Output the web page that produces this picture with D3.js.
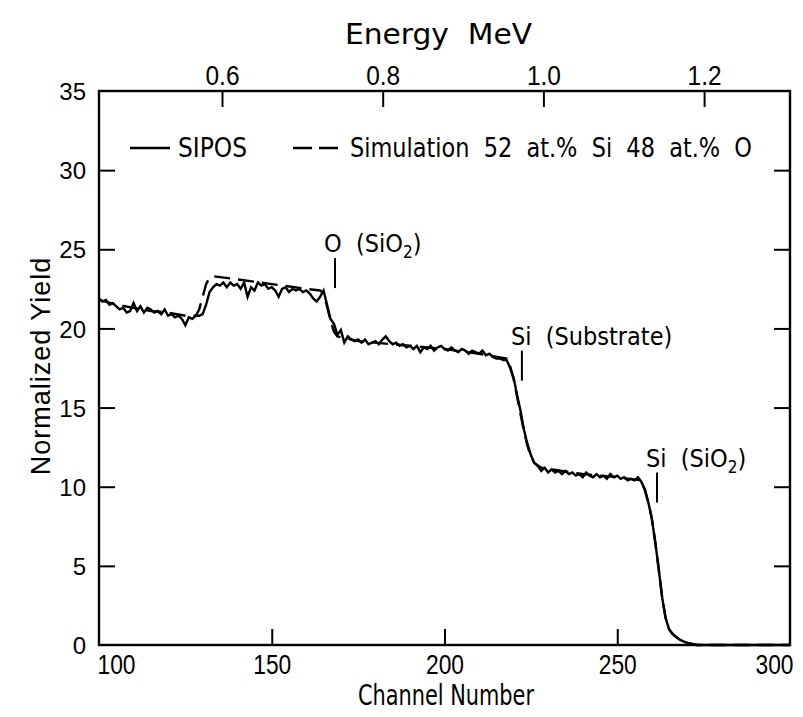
<!DOCTYPE html>
<html>
<head>
<meta charset="utf-8">
<script src="https://cdn.jsdelivr.net/npm/d3@7"></script>
<style>
  html, body { margin: 0; padding: 0; background: #fff; }
  svg { display: block; }
  .plot { font-family: "DejaVu Sans Condensed", "Liberation Sans Narrow", "Liberation Sans", sans-serif; }
  .ylab { font-family: "Liberation Sans", Arial, sans-serif; }
</style>
</head>
<body>
<svg id="chart" width="803" height="717"></svg>
<script>
// ---------------- data ----------------
const siposChannel = [
  100,101,102,103,104,105,106,107,108,109,110,111,112,113,114,115,116,117,118,119,
  120,121,122,123,124,125,126,127,128,129,130,131,132,133,134,135,136,137,138,139,
  140,141,142,143,144,145,146,147,148,149,150,151,152,153,154,155,156,157,158,159,
  160,161,162,163,164,165,166,167,168,169,170,171,172,173,174,175,176,177,178,179,
  180,181,182,183,184,185,186,187,188,189,190,191,192,193,194,195,196,197,198,199,
  200,201,202,203,204,205,206,207,208,209,210,211,212,213,214,215,216,217,218,219,
  220,221,222,223,224,225,226,227,228,229,230,231,232,233,234,235,236,237,238,239,
  240,241,242,243,244,245,246,247,248,249,250,251,252,253,254,255,256,257,258,259,
  260,261,262,263,264,265,266,267,268,269,270,271,272,273,300
];
const siposYield = [
  21.9,21.7,21.8,21.5,21.6,21.4,21.2,21.3,21.0,21.1,21.6,21.1,21.4,21.0,21.3,21.2,21.0,21.1,20.9,21.2,
  20.8,20.9,20.7,20.8,20.6,20.2,20.7,20.6,20.8,20.8,20.9,21.5,22.3,22.6,22.8,22.7,22.9,22.6,22.9,22.7,
  22.8,22.5,22.9,22.0,22.6,22.4,22.9,22.7,22.8,22.5,22.6,22.4,22.0,22.5,22.6,22.3,22.5,22.4,22.5,22.3,
  22.4,22.2,21.9,21.7,22.0,22.4,21.5,20.6,20.3,19.6,19.9,19.1,19.5,19.3,19.2,19.3,19.1,19.3,19.0,19.1,
  19.2,19.0,19.3,19.5,19.2,19.0,19.1,18.9,19.0,18.8,18.9,18.7,18.9,18.5,18.8,18.7,18.9,18.6,18.8,18.9,
  18.7,18.6,18.8,18.6,18.5,18.7,18.6,18.4,18.6,18.5,18.4,18.6,18.3,18.4,18.2,18.1,18.1,18.0,18.0,17.5,
  16.9,15.8,14.8,13.6,12.7,12.0,11.5,11.3,11.0,11.2,10.9,11.1,10.9,11.0,10.8,11.0,10.8,10.9,10.7,10.8,
  10.6,10.9,10.7,10.6,10.8,10.6,10.7,10.5,10.8,10.6,10.7,10.5,10.6,10.4,10.5,10.4,10.6,10.3,9.8,9.0,
  8.0,6.5,4.8,3.0,1.7,1.0,0.7,0.5,0.35,0.25,0.15,0.1,0.05,0.0,0.0
];
const simChannel = [100,105,110,115,120,125,128,129,130,131,132,133,140,150,160,164,165,166,167,168,169,175,185,200,210,218,219,220,221,222,223,224,225,226,228,240,250,257,258,259,260,261,262,263,264,265,266,268,270,273,300];
const simYield   = [21.8,21.5,21.3,21.1,21.0,20.8,20.8,21.2,22.0,22.8,23.2,23.3,23.1,22.8,22.5,22.4,22.2,21.4,20.5,19.8,19.5,19.2,19.0,18.7,18.4,18.1,17.6,16.8,15.7,14.6,13.5,12.6,11.9,11.5,11.2,10.8,10.6,10.4,9.8,9.0,8.0,6.5,4.8,3.0,1.7,1.0,0.7,0.35,0.15,0.0,0.0];

const channelTicks = [100,150,200,250,300];
const yieldTicks = [0,5,10,15,20,25,30,35];
const energyTicks = [0.6,0.8,1.0,1.2];
// energy calibration: E = e0 + k*(channel - c0)
const calib = {c0: 135.6, e0: 0.6, k: 0.0043};

const annotationChannel = [168.3, 222.4, 261.5];
const annotationYield   = [22.55, 16.7, 9.0];
const annotationLabel   = ["O", "Si", "Si"];
const annotationParen   = ["SiO", "Substrate", "SiO"];
const annotationSub     = ["2", "", "2"];

// ---------------- layout ----------------
const margin = {left: 99, top: 91, right: 13, bottom: 72};
const W = 803, H = 717;
const pw = W - margin.left - margin.right;   // 691
const ph = H - margin.top - margin.bottom;   // 554

const svg = d3.select("#chart");
const g = svg.append("g").attr("class", "plot").attr("transform", `translate(${margin.left},${margin.top})`);

const x = d3.scaleLinear().domain([100, 300]).range([0, pw]);
const y = d3.scaleLinear().domain([0, 35]).range([ph, 0]);
const eOf = c => calib.e0 + calib.k * (c - calib.c0);
const xE = d3.scaleLinear().domain([eOf(100), eOf(300)]).range([0, pw]);

const tickLen = 16;
const axisStroke = 2.4;

function styleAxis(sel) {
  sel.select(".domain").remove();
  sel.selectAll(".tick line").attr("stroke", "#000").attr("stroke-width", 2);
  sel.selectAll(".tick text").attr("fill", "#000");
}

// bottom axis (ticks inward)
const xb = g.append("g").attr("transform", `translate(0,${ph})`)
  .call(d3.axisBottom(x).tickValues(channelTicks).tickSizeInner(-tickLen).tickSizeOuter(0).tickPadding(10).tickFormat(d3.format("d")));
styleAxis(xb);
xb.selectAll(".tick text").style("font-size", "27px")
  .attr("textLength", 38).attr("lengthAdjust", "spacingAndGlyphs")
  .attr("text-anchor", (d, i) => i === 0 ? "start" : (i === channelTicks.length - 1 ? "end" : "middle"))
  .attr("dx", (d, i) => i === 0 ? -2 : (i === channelTicks.length - 1 ? 3 : 0));
xb.selectAll(".tick line").filter(d => d === 100 || d === 300).remove();

// top axis (energy)
const xt = g.append("g")
  .call(d3.axisTop(xE).tickValues(energyTicks).tickSizeInner(-tickLen).tickSizeOuter(0).tickPadding(6).tickFormat(d3.format(".1f")));
styleAxis(xt);
xt.selectAll(".tick text").style("font-size", "27px")
  .attr("textLength", 34).attr("lengthAdjust", "spacingAndGlyphs");

// left axis
const yl = g.append("g")
  .call(d3.axisLeft(y).tickValues(yieldTicks).tickSizeInner(-tickLen).tickSizeOuter(0).tickPadding(13));
styleAxis(yl);
yl.selectAll(".tick text").attr("class", "ylab").style("font-size", "24px").attr("dy", "0.36em");
yl.selectAll(".tick line").filter(d => d === 0 || d === 35).remove();

// right axis
const yr = g.append("g").attr("transform", `translate(${pw},0)`)
  .call(d3.axisRight(y).tickValues(yieldTicks).tickSizeInner(-tickLen).tickSizeOuter(0).tickFormat(""));
styleAxis(yr);
yr.selectAll(".tick line").filter(d => d === 0 || d === 35).remove();

// frame
g.append("rect").attr("x", 0).attr("y", 0).attr("width", pw).attr("height", ph)
  .attr("fill", "none").attr("stroke", "#000").attr("stroke-width", axisStroke);

// lines
const line = d3.line().x(d => x(d[0])).y(d => y(d[1]));
const simData = simChannel.map((c, i) => [c, simYield[i]]);
const siposData = siposChannel.map((c, i) => [c, siposYield[i]]);

g.append("path").datum(simData).attr("d", line)
  .attr("fill", "none").attr("stroke", "#000").attr("stroke-width", 2.4)
  .attr("stroke-dasharray", "16,8");
g.append("path").datum(siposData).attr("d", line)
  .attr("fill", "none").attr("stroke", "#000").attr("stroke-width", 2.4)
  .attr("stroke-linejoin", "miter");

// annotations
annotationChannel.forEach((c, i) => {
  const ax = x(c);
  const ay = y(annotationYield[i]);
  g.append("line").attr("x1", ax).attr("x2", ax).attr("y1", ay - 30).attr("y2", ay)
    .attr("stroke", "#000").attr("stroke-width", 2);
  const t = g.append("text").attr("x", ax - 11).attr("y", ay - 36)
    .style("font-size", "25px").attr("fill", "#000").style("white-space", "pre");
  t.append("tspan").text(annotationLabel[i] + "  (" + annotationParen[i]);
  if (annotationSub[i]) {
    t.append("tspan").attr("dy", 6).style("font-size", "17px").text(annotationSub[i]);
    t.append("tspan").attr("dy", -6).text(")");
  } else {
    t.append("tspan").text(")");
  }
});

// legend
const ly = y(31.4);
g.append("line").attr("x1", 130 - margin.left).attr("x2", 170 - margin.left).attr("y1", ly).attr("y2", ly)
  .attr("stroke", "#000").attr("stroke-width", 2.4);
g.append("text").attr("x", 178 - margin.left).attr("y", ly + 9).style("font-size", "26px")
  .attr("textLength", 69).attr("lengthAdjust", "spacingAndGlyphs").text("SIPOS");
g.append("line").attr("x1", 293 - margin.left).attr("x2", 338 - margin.left).attr("y1", ly).attr("y2", ly)
  .attr("stroke", "#000").attr("stroke-width", 2.4).attr("stroke-dasharray", "19,7");
g.append("text").attr("x", 350 - margin.left).attr("y", ly + 9).style("font-size", "26px")
  .style("white-space", "pre").attr("textLength", 402).attr("lengthAdjust", "spacingAndGlyphs")
  .text("Simulation  52  at.%  Si  48  at.%  O");

// axis titles
svg.append("text").attr("class", "plot").attr("x", 345).attr("y", 44)
  .style("font-size", "29px").style("white-space", "pre")
  .attr("textLength", 187).attr("lengthAdjust", "spacingAndGlyphs").text("Energy  MeV");
svg.append("text").attr("class", "plot").attr("x", 358).attr("y", 705)
  .style("font-size", "28px")
  .attr("textLength", 176).attr("lengthAdjust", "spacingAndGlyphs").text("Channel Number");
svg.append("text").attr("class", "ylab").attr("transform", `translate(50,366) rotate(-90)`)
  .attr("text-anchor", "middle").style("font-size", "27px").style("letter-spacing", "1px").text("Normalized Yield");
</script>
</body>
</html>
